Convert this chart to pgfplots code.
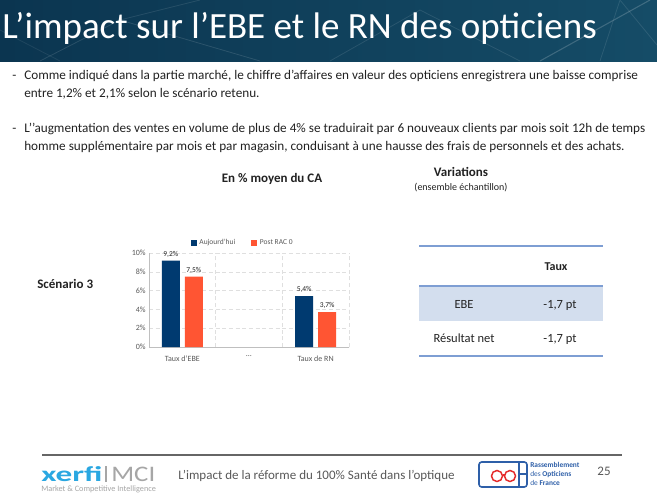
\documentclass[border=0pt]{standalone}
\usepackage{pgfplots}
\pgfplotsset{compat=1.18}
\usepackage{fontspec}
\setmainfont{Carlito}

\definecolor{navy}{HTML}{003A70}
\definecolor{coral}{HTML}{FF5533}
\definecolor{bandA}{HTML}{0B3550}
\definecolor{bandB}{HTML}{154C67}
\definecolor{tline}{HTML}{7E9ED3}
\definecolor{tfill}{HTML}{D3DEEE}
\definecolor{txt}{HTML}{222222}
\definecolor{gtxt}{HTML}{595959}
\definecolor{xblue}{HTML}{2AA7E1}
\definecolor{rofblue}{HTML}{2E5FA8}
\definecolor{rofred}{HTML}{E52A2A}

% font size given in pixels of the reference
\newcommand{\px}[1]{\fontsize{\dimexpr#1pt*3/4\relax}{\dimexpr#1pt*9/10\relax}\selectfont}

\begin{document}
\begin{tikzpicture}
\begin{scope}[x=0.75pt,y=-0.75pt]
  \path[use as bounding box] (0,0) rectangle (657,494);
  \fill[white] (0,0) rectangle (657,494);

  % title band
  \shade[left color=bandA,right color=bandB] (0,0) rectangle (657,61);
  \begin{scope}
    \clip (0,0) rectangle (657,61);
    \draw[white,opacity=0.12,line width=0.6pt] (40,61) -- (120,20) -- (260,61);
    \draw[white,opacity=0.10,line width=0.6pt] (120,20) -- (200,0);
    \draw[white,opacity=0.10,line width=0.6pt] (330,61) -- (420,10) -- (520,61);
    \draw[white,opacity=0.18,line width=0.8pt] (540,61) -- (650,0);
    \draw[white,opacity=0.10,line width=0.6pt] (600,61) -- (620,0) -- (657,45);
    \draw[white,opacity=0.08,line width=0.6pt] (0,30) -- (60,61);
  \end{scope}
  \node[anchor=base west,inner sep=0,text=white,font=\px{37}] at (2,38.5)
    {L’impact sur l’EBE et le RN des opticiens};

  % bullets
  \begin{scope}[every node/.style={anchor=base west,inner sep=0,text=txt,font=\px{13.2}}]
    \node at (12,79) {-};
    \node at (24,79) {Comme indiqué dans la partie marché, le chiffre d’affaires en valeur des opticiens enregistrera une baisse comprise};
    \node at (24,97) {entre 1,2\% et 2,1\% selon le scénario retenu.};
    \node at (12,132) {-};
    \node at (24,132) {L’’augmentation des ventes en volume de plus de 4\% se traduirait par 6 nouveaux clients par mois soit 12h de temps};
    \node at (24,150) {homme supplémentaire par mois et par magasin, conduisant à une hausse des frais de personnels et des achats.};
  \end{scope}

  % headings
  \node[anchor=base,inner sep=0,text=txt,font=\px{13}\bfseries] at (272,182) {En \% moyen du CA};
  \node[anchor=base,inner sep=0,text=txt,font=\px{13}\bfseries] at (461,176) {Variations};
  \node[anchor=base,inner sep=0,text=txt,font=\px{10}] at (461,190) {(ensemble échantillon)};
  \node[anchor=base west,inner sep=0,text=txt,font=\px{13}\bfseries] at (37,288) {Scénario 3};

  % table
  \fill[tfill] (419,286) rectangle (603,321);
  \draw[tline,line width=1.1pt] (419,246) -- (603,246);
  \draw[tline,line width=1.1pt] (419,286) -- (603,286);
  \draw[tline,line width=1.1pt] (419,356) -- (603,356);
  \node[anchor=base,inner sep=0,text=txt,font=\px{12}\bfseries] at (556,270) {Taux};
  \node[anchor=base,inner sep=0,text=txt,font=\px{12.5}] at (464,308) {EBE};
  \node[anchor=base,inner sep=0,text=txt,font=\px{12.5}] at (560,308) {-1,7 pt};
  \node[anchor=base,inner sep=0,text=txt,font=\px{12.5}] at (464,342) {Résultat net};
  \node[anchor=base,inner sep=0,text=txt,font=\px{12.5}] at (560,342) {-1,7 pt};

  % footer
  \draw[gray!80!black,line width=0.8pt] (42,455) -- (622,455);
  \node[anchor=base west,inner sep=0,text=gtxt,font=\px{13}] at (178,479)
    {L’impact de la réforme du 100\% Santé dans l’optique};
  \node[anchor=base,inner sep=0,text=gtxt,font=\px{13}] at (604,475) {25};
  % xerfi logo
  \node[anchor=base west,inner sep=0,text=xblue] at (41,481.5)
    {\resizebox{46pt}{11.2pt}{\bfseries xerfi}};
  \draw[gray!70,line width=0.8pt] (106,466) -- (106,481.5);
  \node[anchor=base west,inner sep=0,text=gray!70] at (111,481.5)
    {\resizebox{33pt}{10.8pt}{MCI}};
  \node[anchor=base west,inner sep=0,text=gray!70] at (41,491.5)
    {\resizebox{86pt}{!}{\px{6}Market \& Competitive Intelligence}};
  % ROF logo
  \draw[rofblue,line width=1.2pt,rounded corners=2pt] (479,462) rectangle (527,487);
  \draw[rofblue,line width=1.2pt] (519,462) -- (519,487) (519,474) -- (527,474);
  \draw[rofred,line width=1.1pt] (497,476) circle (5.5) (510,476) circle (5.5);
  \draw[rofred,line width=0.9pt] (502.5,475) -- (504.5,475);
  \node[anchor=base west,inner sep=0,text=rofblue,font=\px{7.4}] at (530,467) {\bfseries Rassemblement};
  \node[anchor=base west,inner sep=0,text=rofblue,font=\px{7.4}] at (530,476) {des \bfseries Opticiens};
  \node[anchor=base west,inner sep=0,text=rofblue,font=\px{7.4}] at (530,485) {de \bfseries France};
\end{scope}

\begin{axis}[
  at={(111.75pt,-260.25pt)}, anchor=south west,
  scale only axis, width=150pt, height=70.5pt,
  ybar=3.75pt, bar width=13.5pt,
  xmin=-0.5, xmax=2.5, ymin=0, ymax=10,
  xtick={0,1,2},
  xticklabels={{Taux d'EBE},{…},{Taux de RN}},
  ytick={0,2,4,6,8,10},
  yticklabels={0\%,2\%,4\%,6\%,8\%,10\%},
  extra x ticks={0.5,1.5,2.5}, extra x tick labels={},
  extra x tick style={grid=major},
  ymajorgrids,
  grid style={densely dashed,draw=gray!25},
  axis x line*=bottom, axis y line*=left,
  axis line style={draw=gray!50,-},
  tick style={draw=none},
  tick label style={font=\px{8},text=gtxt},
  xticklabel style={yshift=1pt},
  yticklabel style={xshift=1pt},
  nodes near coords,
  point meta=explicit symbolic,
  every node near coord/.append style={font=\px{7.5},text=txt,yshift=-1pt},
  legend style={at={(0.47,1.01)}, anchor=south, legend columns=2, draw=none, fill=none,
    font=\px{7.5}, text=gtxt,
    /tikz/every even column/.append style={column sep=10pt}},
  legend image code/.code={\fill[#1] (0pt,-2.3pt) rectangle (4.5pt,2.3pt);},
]
\addplot[fill=navy,draw=none] coordinates {(0,9.2) [9,2\%] (2,5.4) [5,4\%]};
\addplot[fill=coral,draw=none] coordinates {(0,7.5) [7,5\%] (2,3.7) [3,7\%]};
\legend{Aujourd'hui,Post RAC 0}
\end{axis}
\end{tikzpicture}
\end{document}
